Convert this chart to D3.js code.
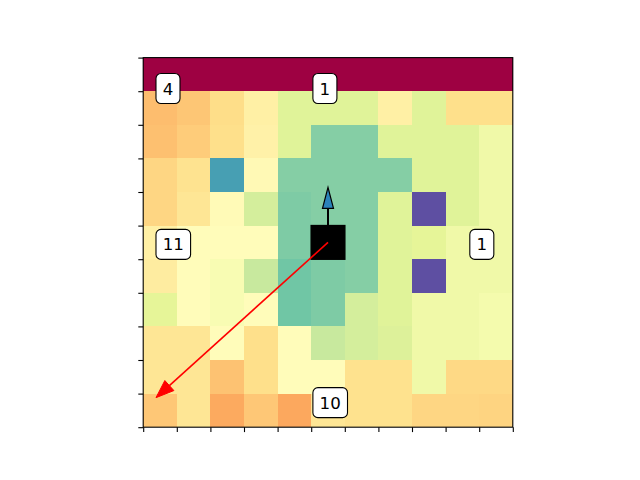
<!DOCTYPE html>
<html>
<head>
<meta charset="utf-8">
<script src="https://cdn.jsdelivr.net/npm/d3@7"></script>
<style>
  html, body { margin: 0; padding: 0; background: #ffffff; }
  svg { display: block; }
</style>
</head>
<body>
<svg id="chart" width="640" height="480"></svg>
<script>
// ---- data (values per grid cell, row by row, top row first) ----
const row0  = [0, 0, 0, 0, 0, 0, 0, 0, 0, 0, 0];
const row1  = [0.33, 0.348, 0.395, 0.45, 0.61, 0.61, 0.61, 0.45, 0.61, 0.40, 0.40];
const row2  = [0.336, 0.36, 0.40, 0.455, 0.61, 0.755, 0.755, 0.61, 0.61, 0.61, 0.56];
const row3  = [0.38, 0.41, 0.86, 0.48, 0.755, 0.755, 0.755, 0.755, 0.61, 0.61, 0.56];
const row4  = [0.38, 0.42, 0.485, 0.63, 0.765, 0.755, 0.755, 0.61, 1.0, 0.61, 0.56];
const row5  = [0.45, 0.49, 0.49, 0.49, 0.765, 0.76, 0.755, 0.61, 0.60, 0.56, 0.56];
const row6  = [0.44, 0.49, 0.53, 0.65, 0.785, 0.765, 0.755, 0.61, 1.0, 0.56, 0.56];
const row7  = [0.60, 0.49, 0.53, 0.49, 0.785, 0.765, 0.63, 0.61, 0.56, 0.56, 0.545];
const row8  = [0.42, 0.42, 0.49, 0.40, 0.49, 0.65, 0.63, 0.615, 0.56, 0.56, 0.545];
const row9  = [0.42, 0.42, 0.34, 0.40, 0.49, 0.49, 0.405, 0.405, 0.56, 0.385, 0.385];
const row10 = [0.35, 0.42, 0.294, 0.35, 0.29, 0.42, 0.405, 0.405, 0.38, 0.38, 0.375];
const valueRows = [row0, row1, row2, row3, row4, row5, row6, row7, row8, row9, row10];

const agentCell = [5, 5];               // [col, row]
const headingArrow = [5.5, 5.5, 5.5, 3.865];   // x0, y0, x1, y1 (grid units)
const targetArrow  = [5.5, 5.5, 0.381, 10.12];

const labelTexts = ["4", "1", "11", "1", "10"];
const labelX = [0.58, 5.25, 0.58, 9.92, 5.25];   // left edge of text (grid units)
const labelY = [0.92, 0.92, 5.56, 5.56, 10.27];  // vertical centre (grid units)

const tickValues = d3.range(0, 12);

// ---- matplotlib "Spectral" colormap ----
const spectralStops = ["#9e0142", "#d53e4f", "#f46d43", "#fdae61", "#fee08b", "#ffffbf",
                       "#e6f598", "#abdda4", "#66c2a5", "#3288bd", "#5e4fa2"];
const cmap = d3.scaleLinear()
  .domain(d3.range(0, 11).map(i => i / 10))
  .range(spectralStops)
  .interpolate(d3.interpolateRgb)
  .clamp(true);

// ---- layout ----
const svg = d3.select("#chart");
const x = d3.scaleLinear().domain([0, 11]).range([143.2, 512.8]);
const y = d3.scaleLinear().domain([0, 11]).range([57.6, 427.2]);

// cells
const cells = [];
valueRows.forEach((r, ri) => r.forEach((v, ci) => cells.push({ r: ri, c: ci, v })));
svg.append("g")
  .selectAll("rect")
  .data(cells)
  .join("rect")
  .attr("x", d => Math.round(x(d.c)))
  .attr("y", d => Math.round(y(d.r)))
  .attr("width", d => Math.round(x(d.c + 1)) - Math.round(x(d.c)))
  .attr("height", d => Math.round(y(d.r + 1)) - Math.round(y(d.r)))
  .attr("fill", d => cmap(d.v))
  .attr("shape-rendering", "crispEdges");

// axes (ticks only, no labels)
const axL = svg.append("g").attr("transform", `translate(${x(0)},0)`)
  .call(d3.axisLeft(y).tickValues(tickValues).tickFormat("").tickSize(4.9).tickSizeOuter(0));
const axB = svg.append("g").attr("transform", `translate(0,${y(11)})`)
  .call(d3.axisBottom(x).tickValues(tickValues).tickFormat("").tickSize(4.9).tickSizeOuter(0));
[axL, axB].forEach(a => {
  a.select(".domain").remove();
  a.selectAll(".tick line").attr("stroke", "#000").attr("stroke-width", 1.1);
});

// frame
svg.append("rect")
  .attr("x", x(0)).attr("y", y(0))
  .attr("width", x(11) - x(0)).attr("height", y(11) - y(0))
  .attr("fill", "none").attr("stroke", "#000").attr("stroke-width", 1.1);

// agent
svg.append("rect")
  .attr("x", x(agentCell[0])).attr("y", y(agentCell[1]))
  .attr("width", x(agentCell[0] + 1) - x(agentCell[0]))
  .attr("height", y(agentCell[1] + 1) - y(agentCell[1]))
  .attr("fill", "#000").attr("stroke", "#000").attr("stroke-width", 1.5);

function drawArrow(a, opt) {
  const x0 = x(a[0]), y0 = y(a[1]), x1 = x(a[2]), y1 = y(a[3]);
  const dx = x1 - x0, dy = y1 - y0, L = Math.hypot(dx, dy);
  const ux = dx / L, uy = dy / L, px = -uy, py = ux;
  const bx = x1 - ux * opt.headLen, by = y1 - uy * opt.headLen;
  svg.append("line")
    .attr("x1", x0).attr("y1", y0).attr("x2", bx).attr("y2", by)
    .attr("stroke", opt.lineColor).attr("stroke-width", opt.lineWidth);
  const hw = opt.headWidth / 2;
  svg.append("path")
    .attr("d", `M${x1},${y1}L${bx + px * hw},${by + py * hw}L${bx - px * hw},${by - py * hw}Z`)
    .attr("fill", opt.headFill).attr("stroke", opt.headStroke)
    .attr("stroke-width", opt.headStrokeWidth).attr("stroke-linejoin", "miter");
}

drawArrow(headingArrow, { headLen: 21, headWidth: 11, lineColor: "#000", lineWidth: 2,
  headFill: "#2b83ba", headStroke: "#000", headStrokeWidth: 1.2 });
drawArrow(targetArrow, { headLen: 18, headWidth: 13.5, lineColor: "#ff0000", lineWidth: 1.6,
  headFill: "#ff0000", headStroke: "#ff0000", headStrokeWidth: 1 });

// labels with rounded boxes
const fs = 16.67;
labelTexts.forEach((t, i) => {
  const g = svg.append("g");
  const tx = x(labelX[i]), cy = y(labelY[i]);
  const txt = g.append("text")
    .attr("x", tx).attr("y", cy + 0.364 * fs)
    .attr("font-family", "DejaVu Sans, sans-serif")
    .attr("font-size", fs)
    .attr("fill", "#000")
    .text(t);
  const w = txt.node().getComputedTextLength();
  g.insert("rect", "text")
    .attr("x", tx - 6.7).attr("y", cy - 15)
    .attr("width", w + 13.4).attr("height", 30)
    .attr("rx", 5).attr("ry", 5)
    .attr("fill", "#fff").attr("stroke", "#000").attr("stroke-width", 1.1);
});
</script>
</body>
</html>
